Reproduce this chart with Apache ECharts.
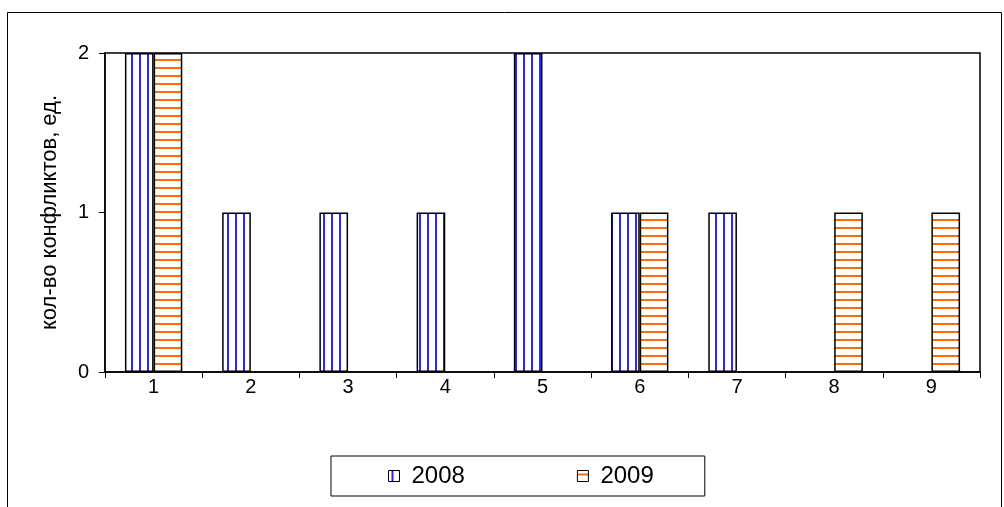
<!DOCTYPE html>
<html><head><meta charset="utf-8">
<script src="https://cdn.jsdelivr.net/npm/echarts@6/dist/echarts.min.js"></script>
<style>html,body{margin:0;padding:0;background:#fff}#c{width:1004px;height:507px}</style>
</head><body><div id="c"></div>
<script>
const categories = ['1','2','3','4','5','6','7','8','9'];
const s2008 = [2,1,1,1,2,1,1,0,0];
const s2009 = [2,0,0,0,0,1,0,1,1];
const yTicks = [0,1,2];

function pattern(vertical, color){
  const c = document.createElement('canvas');
  c.width = 8; c.height = 8;
  const g = c.getContext('2d');
  g.fillStyle = '#fff'; g.fillRect(0,0,8,8);
  g.fillStyle = color;
  if (vertical) g.fillRect(3,0,2,8); else g.fillRect(0,3,8,2);
  return {image: c, repeat: 'repeat'};
}
const hideZero = arr => arr.map(v => v === 0 ? '-' : v);

const chart = echarts.init(document.getElementById('c'));
chart.setOption({
  animation:false,
  textStyle:{fontFamily:'Liberation Sans, Arial, sans-serif'},
  graphic:[{type:'rect',shape:{x:7.5,y:12.5,width:994,height:500},style:{fill:'none',stroke:'#000',lineWidth:1},silent:true}],
  grid:{left:105,top:53,width:875,height:319,show:true,borderColor:'#000',borderWidth:1.5,backgroundColor:'transparent'},
  legend:{top:456,left:331,data:['2008','2009'],itemGap:112,padding:[8,51,8,57],
    borderColor:'#000',borderWidth:1,itemWidth:11,itemHeight:11,icon:'rect',
    itemStyle:{borderColor:'#000',borderWidth:1},
    textStyle:{fontSize:24,color:'#000',lineHeight:24,padding:[0,0,0,7]}},
  xAxis:{type:'category',data:categories,
    axisLine:{lineStyle:{color:'#000',width:1.5}},
    axisTick:{show:true,alignWithLabel:false,length:6,lineStyle:{color:'#000'}},
    axisLabel:{fontSize:20,color:'#000',margin:5},
    splitLine:{show:false}},
  yAxis:{type:'value',min:0,max:2,interval:1,
    name:'кол-во конфликтов, ед.',nameLocation:'middle',nameGap:44,
    nameTextStyle:{fontSize:22,color:'#000'},
    axisLine:{show:true,lineStyle:{color:'#000',width:1.5}},
    axisTick:{show:true,length:6,lineStyle:{color:'#000'}},
    axisLabel:{fontSize:20,color:'#000',margin:16,formatter:v=>yTicks.includes(v)?String(v):''},
    splitLine:{show:false}},
  series:[
    {name:'2008',type:'bar',data:hideZero(s2008),barGap:'0%',barCategoryGap:'41%',
     itemStyle:{color:pattern(true,'#2a2aff'),borderColor:'#000',borderWidth:1.5}},
    {name:'2009',type:'bar',data:hideZero(s2009),barGap:'0%',barCategoryGap:'41%',
     itemStyle:{color:pattern(false,'#ff6a00'),borderColor:'#000',borderWidth:1.5}}
  ]
});
</script></body></html>
